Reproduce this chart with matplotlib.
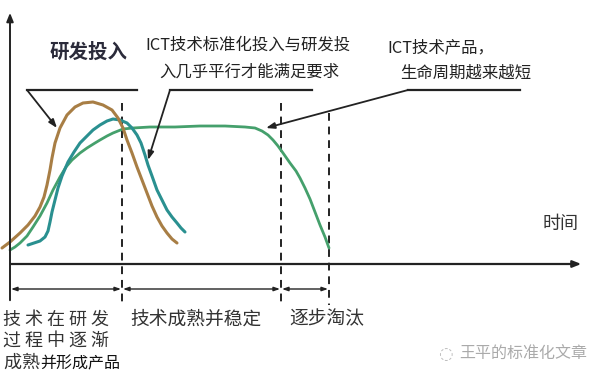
import matplotlib
matplotlib.use("Agg")
import matplotlib.pyplot as plt

plt.rcParams['font.family'] = ['Noto Sans CJK SC', 'DejaVu Sans']

# ---- data (picture coordinates: x = time, y = level, y grows downward) ----
brown_x = [2, 10, 20, 28, 35, 40, 44, 47, 50, 52, 55, 60, 67, 75, 83, 93, 103, 112, 118, 123,
           127, 132, 137, 142, 147, 152, 157, 162, 167, 172, 177]
brown_y = [248, 242, 233, 225, 216, 207, 197, 185, 170, 158, 143, 128, 115, 107, 103, 102, 105, 110, 118, 128,
           140, 153, 167, 180, 193, 206, 217, 226, 233, 239, 243]

teal_x = [28, 34, 40, 45, 48, 50, 52, 55, 58, 62, 68, 74, 80, 87, 93, 100, 107, 113, 120, 127,
          132, 137, 141, 145, 148, 152, 157, 162, 167, 172, 177, 181, 185]
teal_y = [245, 243, 241, 237, 231, 222, 212, 200, 188, 176, 162, 152, 143, 136, 130, 125, 121, 119, 120, 123,
          128, 135, 143, 155, 165, 176, 190, 200, 210, 217, 223, 228, 232]

green_x = [10, 15, 20, 27, 33, 40, 47, 53, 60, 66, 72, 80, 87, 95, 100, 107, 113, 123, 133, 150,
           175, 200, 225, 245, 255, 262, 268, 273, 278, 283, 290, 296, 300, 305, 310, 315, 320, 325, 329]
green_y = [250, 247, 243, 236, 227, 216, 203, 190, 177, 167, 160, 153, 148, 143, 140, 136, 133, 129, 128, 127,
           127, 126, 126, 127, 128, 131, 135, 140, 146, 153, 163, 171, 178, 188, 199, 212, 225, 237, 248]

stage_edges = [10, 122, 281, 329]
stage_labels = ["技 术 在 研 发\n过 程 中 逐 渐", "技术成熟并稳定", "逐步淘汰"]

W, H = 589, 381
fig = plt.figure(figsize=(W / 100, H / 100), dpi=100)
ax = fig.add_axes([0, 0, 1, 1])
ax.set_xlim(0, W)
ax.set_ylim(H, 0)
ax.axis('off')

dark = '#222222'
text_c = '#333333'

# axes
ax.annotate('', xy=(10, 10), xytext=(10, 303),
            arrowprops=dict(arrowstyle='-|>,head_length=0.5,head_width=0.2', color=dark, lw=1.4))
ax.annotate('', xy=(584, 264), xytext=(8, 264),
            arrowprops=dict(arrowstyle='-|>,head_length=0.5,head_width=0.2', color=dark, lw=1.6))

# dashed stage lines
ax.plot([122, 122], [103, 302], color=dark, lw=1.4, ls=(0, (4, 3)))
ax.plot([281, 281], [103, 302], color=dark, lw=1.4, ls=(0, (4, 3)))
ax.plot([329, 329], [113, 305], color=dark, lw=1.4, ls=(0, (4, 3)))

# curves
kw = dict(solid_joinstyle='round', solid_capstyle='round')
ax.plot(green_x, green_y, color='#45a06c', lw=2.0, **kw)
ax.plot(teal_x, teal_y, color='#2a9090', lw=2.2, **kw)
ax.plot(brown_x, brown_y, color='#a87e45', lw=2.2, **kw)

# stage double arrows
for a, b in zip(stage_edges[:-1], stage_edges[1:]):
    ax.annotate('', xy=(b - 1, 289), xytext=(a + 1, 289),
                arrowprops=dict(arrowstyle='<|-|>,head_length=0.35,head_width=0.12',
                                color=dark, lw=1.0, shrinkA=0, shrinkB=0))

# stage labels
ax.text(3, 330, stage_labels[0], fontsize=13, color=text_c, ha='left', va='center',
        linespacing=1.2)
ax.text(3, 363, "成", fontsize=13, color=text_c, ha='left', va='center')
ax.text(21, 363, "熟", fontsize=13, color=text_c, ha='left', va='center')
ax.text(40, 364, "并形成产品", fontsize=11.5, color='#111111', ha='left', va='center')
ax.text(130, 319, stage_labels[1], fontsize=13.5, color=text_c, ha='left', va='center')
ax.text(289, 319, stage_labels[2], fontsize=13.5, color=text_c, ha='left', va='center')

# top annotations
ax.text(50, 52, "研发投入", fontsize=14, fontweight='bold', color='#2b2b3a', ha='left', va='center')
ax.plot([27, 137], [90, 90], color=dark, lw=1.6)
ax.annotate('', xy=(57, 128), xytext=(27, 90),
            arrowprops=dict(arrowstyle='-|>,head_length=0.5,head_width=0.18', color=dark, lw=1.3,
                            shrinkA=0, shrinkB=0))

ax.text(145, 45, "ICT技术标准化投入与研发投", fontsize=11.8, color='#222222', ha='left', va='center')
ax.text(159, 72, "入几乎平行才能满足要求", fontsize=11.8, color='#222222', ha='left', va='center')
ax.plot([170, 312], [90, 90], color=dark, lw=1.6)
ax.annotate('', xy=(148, 160), xytext=(170, 90),
            arrowprops=dict(arrowstyle='-|>,head_length=0.5,head_width=0.18', color=dark, lw=1.3,
                            shrinkA=0, shrinkB=0))

ax.text(387, 48, "ICT技术产品，", fontsize=11.8, color='#222222', ha='left', va='center')
ax.text(400, 73, "生命周期越来越短", fontsize=11.8, color='#222222', ha='left', va='center')
ax.plot([408, 520], [90, 90], color=dark, lw=1.6)
ax.annotate('', xy=(266, 128), xytext=(408, 90),
            arrowprops=dict(arrowstyle='-|>,head_length=0.5,head_width=0.18', color=dark, lw=1.3,
                            shrinkA=0, shrinkB=0))

ax.text(543, 224, "时间", fontsize=13, color=text_c, ha='left', va='center')

# watermark
ax.text(438, 354, "◌", fontsize=12, color='#bbbbbb', ha='left', va='center', family=['DejaVu Sans'])
ax.text(459, 354, "王平的标准化文章", fontsize=11.5, color='#aaaaaa', ha='left', va='center')

fig.savefig('out.png', dpi=100, facecolor='white')
